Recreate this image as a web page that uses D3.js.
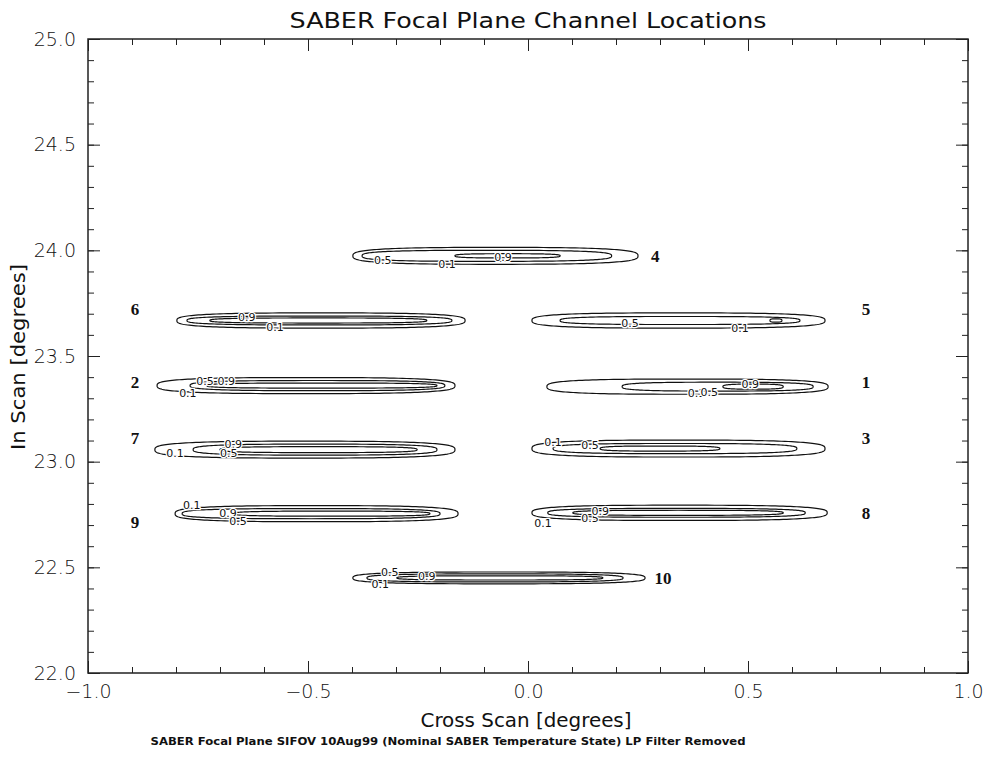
<!DOCTYPE html>
<html>
<head>
<meta charset="utf-8">
<script src="https://cdn.jsdelivr.net/npm/d3@7"></script>
<style>
  body { margin: 0; background: #fff; }
  text { fill: #111; }
</style>
</head>
<body>
<div id="chart"></div>
<script>
// contour levels of the normalised spatial response
const levels = [0.1, 0.5, 0.9];
const channelIds = ["1", "2", "3", "4", "5", "6", "7", "8", "9", "10"];
// in-scan centre of each channel [deg]
const channelCenter = [23.355, 23.360, 23.062, 23.974, 23.668, 23.668, 23.057, 22.758, 22.754, 22.450];
// [cross-scan start, cross-scan end, in-scan half height] for each level
const level01 = [[0.043, 0.682, 0.036], [-0.843, -0.166, 0.038], [0.009, 0.675, 0.040], [-0.398, 0.250, 0.040], [0.009, 0.675, 0.036],
                 [-0.798, -0.143, 0.036], [-0.848, -0.166, 0.040], [0.009, 0.680, 0.036], [-0.802, -0.159, 0.038], [-0.398, 0.266, 0.028]];
const level05 = [[0.214, 0.648, 0.021], [-0.768, -0.189, 0.024], [0.057, 0.611, 0.024], [-0.377, 0.190, 0.026], [0.073, 0.618, 0.019],
                 [-0.775, -0.173, 0.021], [-0.761, -0.207, 0.026], [0.045, 0.630, 0.021], [-0.786, -0.200, 0.024], [-0.366, 0.216, 0.019]];
const level09 = [[0.443, 0.580, 0.012], [-0.730, -0.207, 0.012], [0.164, 0.436, 0.012], [-0.166, 0.073, 0.010], [0.550, 0.577, 0.008],
                 [-0.723, -0.230, 0.012], [-0.700, -0.252, 0.014], [0.102, 0.580, 0.012], [-0.670, -0.223, 0.012], [-0.298, 0.170, 0.010]];
// channel number labels
const numberX = [0.768, -0.893, 0.768, 0.289, 0.768, -0.893, -0.893, 0.768, -0.893, 0.307];
const numberY = [23.379, 23.379, 23.114, 23.972, 23.720, 23.720, 23.114, 22.758, 22.716, 22.450];
// contour level labels: [level, cross scan, in scan]
const contourLabels = [
  ["0.9", 0.505, 23.365], ["0.1", 0.383, 23.322], ["0.5", 0.412, 23.330],
  ["0.5", -0.734, 23.379], ["0.9", -0.686, 23.379], ["0.1", -0.773, 23.322],
  ["0.1", 0.057, 23.090], ["0.5", 0.141, 23.076],
  ["0.5", -0.330, 23.953], ["0.1", -0.184, 23.934], ["0.9", -0.057, 23.967],
  ["0.5", 0.232, 23.654], ["0.1", 0.482, 23.630],
  ["0.9", -0.639, 23.682], ["0.1", -0.575, 23.635],
  ["0.1", -0.802, 23.038], ["0.9", -0.670, 23.085], ["0.5", -0.680, 23.038],
  ["0.1", 0.034, 22.711], ["0.5", 0.141, 22.735], ["0.9", 0.164, 22.768],
  ["0.1", -0.764, 22.792], ["0.9", -0.682, 22.758], ["0.5", -0.659, 22.720],
  ["0.5", -0.314, 22.479], ["0.9", -0.230, 22.460], ["0.1", -0.336, 22.422]
];
const xTicks = [-1.0, -0.5, 0.0, 0.5, 1.0];
const yTicks = [22.0, 22.5, 23.0, 23.5, 24.0, 24.5, 25.0];

const W = 986, H = 765;
const plot = { left: 88, right: 968, top: 39, bottom: 673 };

const svg = d3.select("#chart").append("svg")
  .attr("width", W)
  .attr("height", H);

const x = d3.scaleLinear().domain([-1, 1]).range([plot.left, plot.right]);
const y = d3.scaleLinear().domain([22, 25]).range([plot.bottom, plot.top]);

// ticks point inward on all four sides
const majorLen = 12, minorLen = 6;
const xMinor = d3.range(-1, 1.0001, 0.1);
const yMinor = d3.range(22, 25.0001, 0.1);
const fmt = d => d < 0 ? "\u2212" + Math.abs(d).toFixed(1) : d.toFixed(1);

function tickAxis(axisFn, scale, values, len, labels) {
  const a = axisFn(scale).tickValues(values).tickSizeInner(-len).tickSizeOuter(0);
  if (labels) a.tickFormat(fmt).tickPadding(12);
  else a.tickFormat("");
  return a;
}

const axisLayers = [
  [d3.axisBottom, x, plot.bottom, 0, true],
  [d3.axisTop, x, plot.top, 0, false],
  [d3.axisLeft, y, 0, plot.left, true],
  [d3.axisRight, y, 0, plot.right, false]
];
axisLayers.forEach(([fn, sc, ty, tx, labelled]) => {
  const minorVals = sc === x ? xMinor : yMinor;
  const majorVals = sc === x ? xTicks : yTicks;
  svg.append("g")
    .attr("transform", `translate(${tx},${ty})`)
    .call(tickAxis(fn, sc, minorVals, minorLen, false))
    .call(g => g.select(".domain").remove());
  const g = svg.append("g")
    .attr("transform", `translate(${tx},${ty})`)
    .call(tickAxis(fn, sc, majorVals, majorLen, labelled))
    .call(g => g.select(".domain").remove());
  g.selectAll("text")
    .style("font-family", "DejaVu Sans, sans-serif")
    .style("font-size", "19px")
    .style("font-weight", "200")
    .attr("fill", "#000");
});
svg.selectAll(".tick line").attr("stroke", "#222").attr("stroke-width", 1);

svg.append("rect")
  .attr("x", plot.left).attr("y", plot.top)
  .attr("width", plot.right - plot.left).attr("height", plot.bottom - plot.top)
  .attr("fill", "none").attr("stroke", "#222").attr("stroke-width", 1.5);

// contour outlines
const line = d3.line().x(d => x(d[0])).y(d => y(d[1])).curve(d3.curveLinearClosed);
function outline(ext, yc) {
  const [x0, x1, hh] = ext;
  const cx = (x0 + x1) / 2, a = (x1 - x0) / 2, n = 3;
  return d3.range(0, 160).map(i => {
    const t = i / 160 * 2 * Math.PI, c = Math.cos(t), s = Math.sin(t);
    return [cx + a * Math.sign(c) * Math.pow(Math.abs(c), 2 / n),
            yc + hh * Math.sign(s) * Math.pow(Math.abs(s), 2 / n)];
  });
}

const contourSets = [level01, level05, level09];
const contourG = svg.append("g");
contourSets.forEach((set, li) => {
  contourG.selectAll(null)
    .data(set)
    .enter()
    .append("path")
    .attr("d", (d, i) => line(outline(d, channelCenter[i])))
    .attr("fill", "none")
    .attr("stroke", "#111")
    .attr("stroke-width", 1.2)
    .attr("class", "level-" + levels[li]);
});

svg.append("g").selectAll("text")
  .data(contourLabels)
  .enter()
  .append("text")
  .attr("x", d => x(d[1]))
  .attr("y", d => y(d[2]))
  .attr("dy", "0.35em")
  .attr("text-anchor", "middle")
  .style("font-family", "DejaVu Sans, sans-serif")
  .style("font-size", "11px")
  .style("paint-order", "stroke")
  .attr("stroke", "#fff")
  .attr("stroke-width", 2.5)
  .attr("fill", "#333")
  .text(d => d[0]);

svg.append("g").selectAll("text")
  .data(channelIds)
  .enter()
  .append("text")
  .attr("x", (d, i) => x(numberX[i]))
  .attr("y", (d, i) => y(numberY[i]))
  .attr("dy", "0.35em")
  .attr("text-anchor", "middle")
  .style("font-family", "Liberation Serif, serif")
  .style("font-weight", "bold")
  .style("font-size", "17px")
  .text(d => d);

// titles
svg.append("text")
  .attr("x", 528).attr("y", 28)
  .attr("text-anchor", "middle")
  .attr("textLength", 477).attr("lengthAdjust", "spacingAndGlyphs")
  .style("font-family", "DejaVu Sans Condensed, sans-serif")
  .style("font-size", "21px")
  .text("SABER Focal Plane Channel Locations");

svg.append("text")
  .attr("x", 526).attr("y", 727)
  .attr("text-anchor", "middle")
  .attr("textLength", 211).attr("lengthAdjust", "spacingAndGlyphs")
  .style("font-family", "DejaVu Sans Condensed, sans-serif")
  .style("font-size", "20px")
  .text("Cross Scan [degrees]");

svg.append("text")
  .attr("transform", "translate(25,357) rotate(-90)")
  .attr("text-anchor", "middle")
  .attr("textLength", 186).attr("lengthAdjust", "spacingAndGlyphs")
  .style("font-family", "DejaVu Sans Condensed, sans-serif")
  .style("font-size", "20px")
  .text("In Scan [degrees]");

svg.append("text")
  .attr("x", 448).attr("y", 745)
  .attr("text-anchor", "middle")
  .attr("textLength", 595).attr("lengthAdjust", "spacingAndGlyphs")
  .style("font-family", "DejaVu Sans Condensed, sans-serif")
  .style("font-weight", "bold")
  .style("font-size", "10px")
  .text("SABER Focal Plane SIFOV 10Aug99 (Nominal SABER Temperature State)  LP Filter Removed");
</script>
</body>
</html>
